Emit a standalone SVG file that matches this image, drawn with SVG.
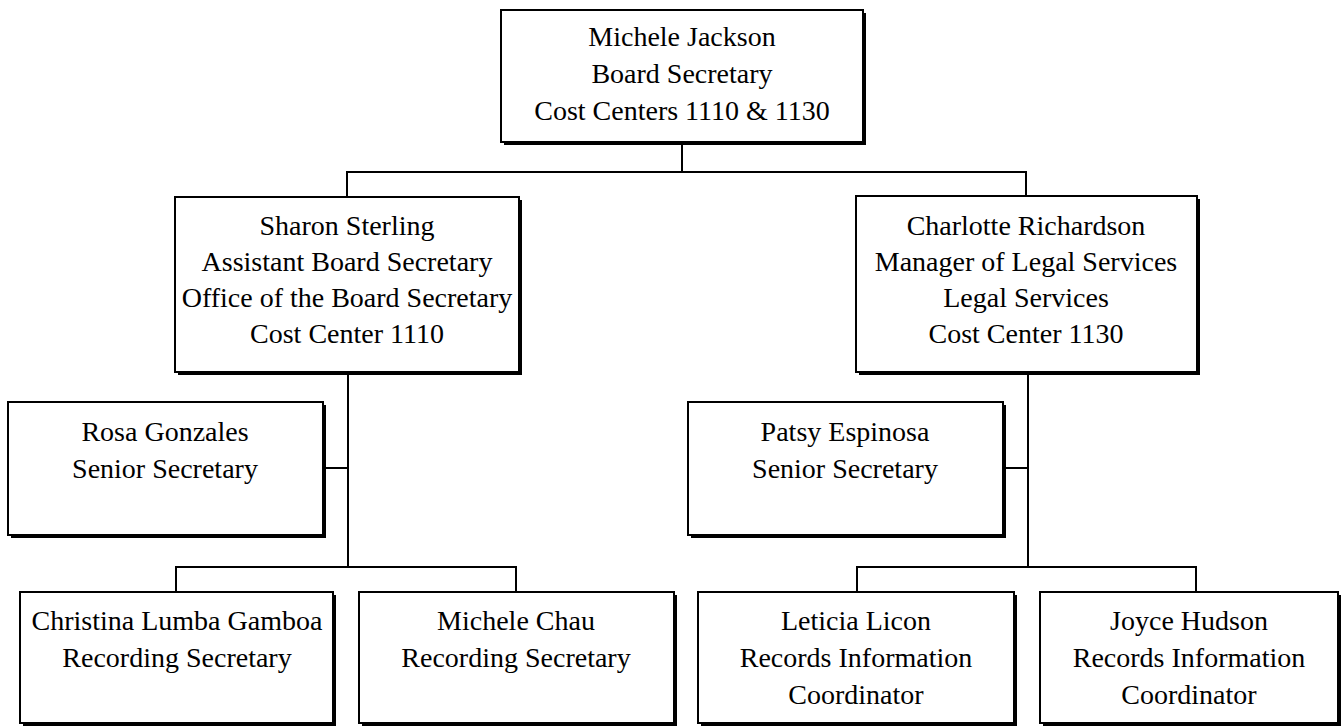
<svg xmlns="http://www.w3.org/2000/svg" width="1341" height="727" viewBox="0 0 1341 727">
<style>
.sh{fill:#000}
.bx{fill:#fff;stroke:#000;stroke-width:2}
.t{font-family:"Liberation Serif","DejaVu Serif",serif;font-size:28px;fill:#000;text-anchor:middle}
.c{fill:none;stroke:#000;stroke-width:2}
</style>
<rect width="1341" height="727" fill="#fff"/>
<g id="connectors">
<path class="c" d="M682 144 V172 M347 197 V172 H1026 V196"/>
<path class="c" d="M348 374 V567 M326 468 H348 M176 592 V567 H516 V592"/>
<path class="c" d="M1028 374 V567 M1006 468 H1028 M857 592 V567 H1196 V592"/>
</g>
<g id="n-jackson">
<rect class="sh" x="504" y="13" width="362" height="132"/>
<rect class="bx" x="501" y="10" width="362" height="132"/>
<text class="t" x="682" y="46">Michele Jackson</text>
<text class="t" x="682" y="83">Board Secretary</text>
<text class="t" x="682" y="120">Cost Centers 1110 &amp; 1130</text>
</g>
<g id="n-sterling">
<rect class="sh" x="178" y="200" width="344" height="175"/>
<rect class="bx" x="175" y="197" width="344" height="175"/>
<text class="t" x="347" y="235">Sharon Sterling</text>
<text class="t" x="347" y="271">Assistant Board Secretary</text>
<text class="t" x="347" y="307">Office of the Board Secretary</text>
<text class="t" x="347" y="343">Cost Center 1110</text>
</g>
<g id="n-richardson">
<rect class="sh" x="859" y="199" width="341" height="176"/>
<rect class="bx" x="856" y="196" width="341" height="176"/>
<text class="t" x="1026" y="235">Charlotte Richardson</text>
<text class="t" x="1026" y="271">Manager of Legal Services</text>
<text class="t" x="1026" y="307">Legal Services</text>
<text class="t" x="1026" y="343">Cost Center 1130</text>
</g>
<g id="n-gonzales">
<rect class="sh" x="11" y="405" width="315" height="133"/>
<rect class="bx" x="8" y="402" width="315" height="133"/>
<text class="t" x="165" y="441">Rosa Gonzales</text>
<text class="t" x="165" y="478">Senior Secretary</text>
</g>
<g id="n-espinosa">
<rect class="sh" x="691" y="405" width="315" height="133"/>
<rect class="bx" x="688" y="402" width="315" height="133"/>
<text class="t" x="845" y="441">Patsy Espinosa</text>
<text class="t" x="845" y="478">Senior Secretary</text>
</g>
<g id="n-gamboa">
<rect class="sh" x="23" y="595" width="313" height="131"/>
<rect class="bx" x="20" y="592" width="313" height="131"/>
<text class="t" x="177" y="630">Christina Lumba Gamboa</text>
<text class="t" x="177" y="667">Recording Secretary</text>
</g>
<g id="n-chau">
<rect class="sh" x="362" y="595" width="315" height="131"/>
<rect class="bx" x="359" y="592" width="315" height="131"/>
<text class="t" x="516" y="630">Michele Chau</text>
<text class="t" x="516" y="667">Recording Secretary</text>
</g>
<g id="n-licon">
<rect class="sh" x="701" y="595" width="316" height="131"/>
<rect class="bx" x="698" y="592" width="316" height="131"/>
<text class="t" x="856" y="630">Leticia Licon</text>
<text class="t" x="856" y="667">Records Information</text>
<text class="t" x="856" y="704">Coordinator</text>
</g>
<g id="n-hudson">
<rect class="sh" x="1043" y="595" width="298" height="131"/>
<rect class="bx" x="1040" y="592" width="298" height="131"/>
<text class="t" x="1189" y="630">Joyce Hudson</text>
<text class="t" x="1189" y="667">Records Information</text>
<text class="t" x="1189" y="704">Coordinator</text>
</g>
</svg>
